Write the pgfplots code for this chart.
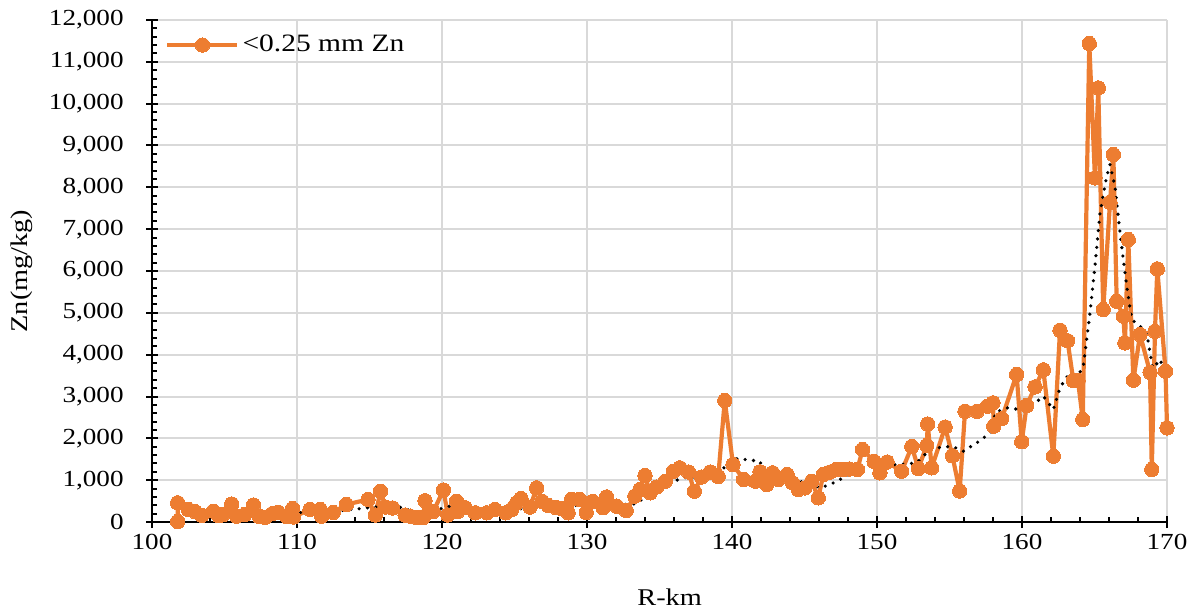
\documentclass[border=0pt]{standalone}
\usepackage{fontspec}
\setmainfont{Liberation Serif}[FakeStretch=1.18]
\usepackage{pgfplots}
\usepackage{pgfplotstable}
\pgfplotsset{compat=1.18}
\definecolor{zn}{HTML}{ED7D31}
\definecolor{gridc}{HTML}{D9D9D9}
\pgfplotstableread{
x y
101.77 10
101.77 459
102.5 300
102.97 250
103.43 160
104.23 258
104.6 150
104.9 180
105.5 430
105.84 140
106.4 180
107.0 406
107.4 130
107.8 110
108.3 200
108.7 234
109.3 130
109.7 320
109.75 120
110.9 300
111.6 300
111.7 140
112.5 227
113.4 418
114.9 538
115.4 167
115.76 736
116.1 358
116.6 335
117.45 167
117.8 139
118.26 108
118.7 108
118.83 509
119.4 251
120.1 765
120.4 167
121.0 497
121.1 258
121.6 340
122.3 220
123.1 220
123.65 299
124.4 220
124.8 299
125.15 459
125.45 560
126.07 358
126.53 817
126.9 497
127.33 394
127.86 347
128.26 323
128.7 220
128.94 545
129.5 538
129.95 230
130.1 450
130.4 490
131.1 340
131.35 600
132.05 378
132.7 275
133.3 617
133.65 777
134.0 1111
134.35 698
134.8 836
135.4 975
135.95 1214
136.4 1295
137.0 1195
137.4 736
137.9 1075
138.5 1195
139.05 1087
139.5 2904
140.07 1374
140.8 1016
141.6 975
141.93 1200
142.4 896
142.8 1176
143.2 1016
143.8 1135
144.17 937
144.57 777
145.03 817
145.5 975
145.95 578
146.3 1135
146.76 1195
147.2 1255
147.7 1255
148.1 1267
148.65 1255
149.0 1733
149.8 1446
150.2 1176
150.7 1434
151.7 1214
152.4 1805
152.85 1279
153.43 1828
153.5 2342
153.77 1295
154.7 2270
155.2 1582
155.7 741
156.07 2648
156.9 2648
157.6 2768
158.0 2849
158.05 2290
158.6 2470
159.63 3525
159.98 1919
160.32 2784
160.9 3231
161.47 3638
162.16 1573
162.62 4584
163.14 4333
163.54 3382
163.86 3382
164.19 2450
164.64 11436
165.03 8226
165.26 10377
165.6 5079
166.07 7643
166.3 8783
166.53 5277
166.99 4919
167.1 4283
167.33 6752
167.68 3389
168.14 4481
168.83 3580
168.95 1255
169.17 4560
169.33 6051
169.9 3604
170.0 2251
}\zndata
\pgfplotstableread{
x y
103.31 234
104.0 244
104.92 220
105.84 234
106.99 244
107.91 203
108.6 220
109.52 200
110.55 234
111.59 258
112.62 258
113.66 299
114.23 315
114.81 340
115.61 363
116.3 418
116.88 378
117.57 299
118.26 220
118.71 220
119.4 258
120.09 340
120.55 378
121.01 459
121.47 378
122.05 258
122.5 258
123.08 299
124.0 258
125.03 258
125.61 340
126.19 378
126.53 497
126.99 538
127.45 497
128.02 459
128.48 378
128.94 378
129.52 418
130.09 378
130.9 418
131.47 378
132.05 418
133.08 418
133.54 459
133.88 578
134.46 736
135.03 817
135.72 896
136.19 999
136.64 1056
137.33 1080
137.91 1080
138.6 1080
139.29 1214
139.74 1453
140.32 1510
140.9 1494
141.93 1453
142.16 1176
142.62 1056
143.54 1056
144.57 975
145.15 937
145.61 896
146.07 817
146.76 896
147.45 1016
148.02 1135
148.71 1214
149.17 1374
149.74 1374
150.67 1374
151.59 1374
152.74 1415
153.19 1573
153.66 1733
154.12 1773
155.15 1812
155.95 1692
156.88 1893
157.57 2067
158.02 2211
158.14 2610
158.94 2729
159.86 2689
160.78 2808
161.47 3007
162.16 2689
162.62 3207
163.08 3470
163.77 3446
164.23 3724
164.69 5000
165.03 6114
165.38 7390
165.84 8265
166.07 8544
166.41 8026
166.76 6912
167.22 5636
167.57 4840
168.14 4680
168.6 4522
169.06 3566
169.4 3884
169.86 3724
}\trenddata
\begin{document}
\begin{tikzpicture}
\begin{axis}[name=ax, scale only axis, width=507.5bp, height=251bp,
 xmin=100, xmax=170, ymin=0, ymax=12000,
 xtick distance=10, ytick distance=1000,
 minor x tick num=4, minor y tick num=4,
 axis x line*=bottom, axis y line*=left,
 axis line style={black, line width=1bp, -},
 tick align=center, major tick length=6bp, minor tick length=2.5bp,
 tick style={black, line width=1bp},
 minor x tick style={yshift=1.25bp},
 minor y tick style={xshift=1.25bp},
 grid=major, major grid style={gridc, line width=1bp},
 clip=false,
 /pgf/number format/.cd, 1000 sep={,}, assume math mode=true, /pgfplots/.cd,
 scaled y ticks=false,
 ticklabel style={font=\fontsize{11.5bp}{13bp}\selectfont},
 yticklabel style={anchor=east, inner sep=0pt, xshift=-11bp},
 xticklabel style={anchor=north, inner sep=0pt, yshift=-3bp},
 xlabel={R-km}, ylabel={Zn(mg/kg)},
 label style={font=\fontsize{12bp}{14bp}\selectfont},
 xlabel style={at={(axis description cs:0.51,-0.1494)}, anchor=center},
 ylabel style={at={(axis description cs:-0.1281,0.5)}, anchor=center},
 legend style={at={(axis description cs:0.0128,0.95)}, anchor=west, draw=none, fill=none, inner sep=0pt,
   font=\fontsize{12.5bp}{14bp}\selectfont, nodes={inner sep=1.5bp}},
 legend cell align=left,
 legend image code/.code={\draw[mark repeat=2,mark phase=2] plot coordinates {(0bp,0bp) (17.5bp,0bp) (35bp,0bp)};},
]
\addplot[color=zn, line width=2.1bp, line join=round, mark=*, mark size=3.6bp, mark options={fill=zn, draw=zn, line width=0pt}] table[x=x,y=y] {\zndata};
\addlegendentry{<0.25 mm Zn}
\addplot[forget plot, black, line width=1.8bp, line cap=round, dash pattern=on 0bp off 4.2bp] table[x=x,y=y] {\trenddata};
\end{axis}
\pgfresetboundingbox
\useasboundingbox ([shift={(-76bp,-44bp)}]ax.south west) rectangle ([shift={(16.5bp,10bp)}]ax.north east);
\end{tikzpicture}
\end{document}
